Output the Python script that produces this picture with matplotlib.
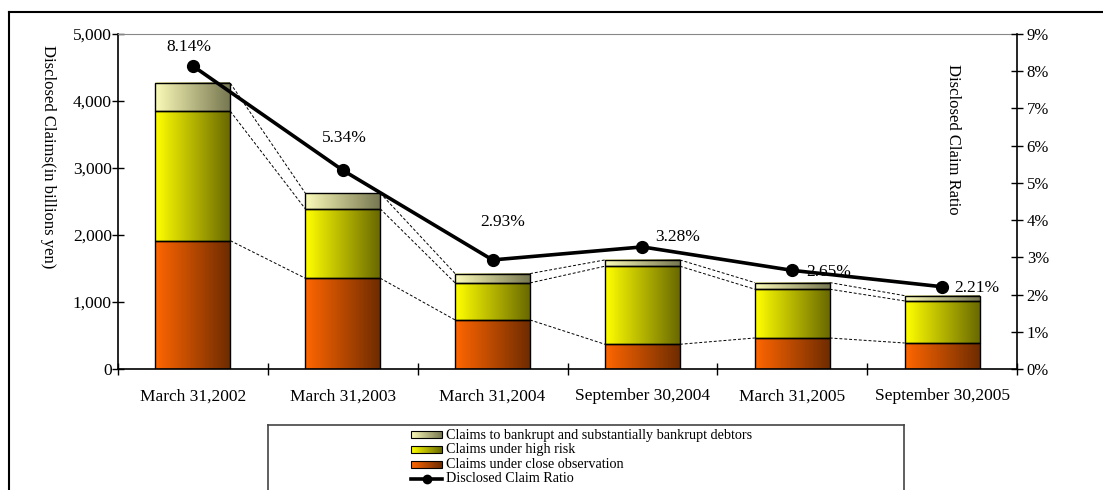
import numpy as np
import matplotlib
matplotlib.use('Agg')
import matplotlib.pyplot as plt
from matplotlib.lines import Line2D
from matplotlib.ticker import FuncFormatter, FixedLocator

plt.rcParams['font.family'] = ['Liberation Serif', 'DejaVu Serif']

# Disclosed claims (billions of yen) and ratio
periods = ['March 31,2002', 'March 31,2003', 'March 31,2004',
           'September 30,2004', 'March 31,2005', 'September 30,2005']
close_observation = [1915, 1355, 732, 369, 463, 388]
high_risk = [1931, 1036, 553, 1165, 728, 628]
bankrupt = [418, 234, 139, 94, 99, 79]
claim_ratio = [8.14, 5.34, 2.93, 3.28, 2.65, 2.21]

series_names = ['Claims to bankrupt and substantially bankrupt debtors',
                'Claims under high risk',
                'Claims under close observation']

# gradient end colours (left -> right) for each stack segment
grad_close = ('#ff6600', '#702c00')
grad_high = ('#ffff00', '#6a6a00')
grad_bank = ('#fafab8', '#787852')

# label offsets in points for ratio labels
label_offsets = [(-3, 14), (1, 23), (7, 27), (25, 7), (26, -1), (25, -1)]

W, H = 1103, 490
fig = plt.figure(figsize=(W / 100, H / 100), dpi=100)
ax = fig.add_axes([118 / W, 1 - 369 / H, (1017 - 118) / W, (369 - 34) / H])


def gradient(c0, c1, n=64):
    a = np.array(matplotlib.colors.to_rgb(c0))
    b = np.array(matplotlib.colors.to_rgb(c1))
    t = np.linspace(0, 1, n)[:, None]
    return (a + (b - a) * t)[None, :, :]


x = np.arange(len(periods))
width = 0.5
lvl1 = np.array(close_observation)
lvl2 = lvl1 + np.array(high_risk)
lvl3 = lvl2 + np.array(bankrupt)

stack = [(np.zeros(len(x)), lvl1, grad_close),
         (lvl1, lvl2, grad_high),
         (lvl2, lvl3, grad_bank)]
for bottom, top, grad in stack:
    img = gradient(*grad)
    for i in range(len(x)):
        ax.imshow(img, extent=[x[i] - width / 2, x[i] + width / 2, bottom[i], top[i]],
                  aspect='auto', interpolation='bilinear', zorder=2)
    ax.bar(x, top - bottom, width, bottom=bottom, facecolor='none',
           edgecolor='black', linewidth=1.0, zorder=3)

# series lines between adjacent bars
for lvl in (lvl1, lvl2, lvl3):
    for i in range(len(x) - 1):
        ax.plot([x[i] + width / 2, x[i + 1] - width / 2], [lvl[i], lvl[i + 1]],
                color='black', linestyle=(0, (3, 2)), linewidth=0.7, zorder=3)

ax.set_xlim(-0.5, len(x) - 0.5)
ax.set_ylim(0, 5000)
ax.yaxis.set_major_locator(FixedLocator(np.arange(0, 5001, 1000)))
ax.yaxis.set_major_formatter(FuncFormatter(lambda v, p: f'{v:,.0f}'))
ax.xaxis.set_major_locator(FixedLocator(np.arange(-0.5, len(x), 1.0)))
ax.xaxis.set_major_formatter(FuncFormatter(lambda v, p: ''))
ax.xaxis.set_minor_locator(FixedLocator(x))
ax.set_xticklabels(periods, minor=True)
ax.tick_params(axis='x', which='major', direction='inout', length=8, width=1)
ax.tick_params(axis='x', which='minor', length=0, pad=14, labelsize=12.5)
ax.tick_params(axis='y', direction='inout', length=8, width=1, labelsize=12.5, pad=0.5)

for s in ('left', 'bottom'):
    ax.spines[s].set_linewidth(1.2)
ax.spines['top'].set_color('#888888')
ax.spines['top'].set_linewidth(0.8)
ax.spines['right'].set_visible(False)

# ratio on secondary axis
ax2 = ax.twinx()
ax2.set_ylim(0, 9)
ax2.yaxis.set_major_locator(FixedLocator(np.arange(0, 10, 1)))
ax2.yaxis.set_major_formatter(FuncFormatter(lambda v, p: f'{v:.0f}%'))
ax2.tick_params(axis='y', direction='inout', length=8, width=1, labelsize=12, pad=3)
ax2.spines['right'].set_linewidth(1.2)
for s in ('left', 'top', 'bottom'):
    ax2.spines[s].set_visible(False)
ax2.plot(x, claim_ratio, color='black', linewidth=2.6, marker='o', markersize=8.5, zorder=5)
for xi, r, off in zip(x, claim_ratio, label_offsets):
    ax2.annotate(f'{r:.2f}%', (xi, r), xytext=off, textcoords='offset points',
                 ha='center', va='center', fontsize=12.5)

ax.text((48 - 118) / 899, (369 - 157) / 335, 'Disclosed Claims(in billions yen)',
        transform=ax.transAxes, rotation=-90, ha='center', va='center', fontsize=12)
ax.text((953 - 118) / 899, (369 - 139) / 335, 'Disclosed Claim Ratio',
        transform=ax.transAxes, rotation=-90, ha='center', va='center', fontsize=12)

# outer frame (open at right and bottom)
fig.add_artist(Line2D([9 / W, 9 / W], [0, 1 - 12 / H], color='black', linewidth=1.5,
                      transform=fig.transFigure))
fig.add_artist(Line2D([9 / W, 1], [1 - 12 / H, 1 - 12 / H], color='black', linewidth=1.5,
                      transform=fig.transFigure))

# legend box
lax = fig.add_axes([268 / W, 0, (904 - 268) / W, (H - 425) / H])
lax.set_xlim(268, 904)
lax.set_ylim(H, 425)
lax.set_xticks([])
lax.set_yticks([])
lax.spines['bottom'].set_visible(False)
for s in ('top', 'left', 'right'):
    lax.spines[s].set_color('#444444')
    lax.spines[s].set_linewidth(1.2)

rows = [435, 450, 464.5, 479]
for (name, grad), yy in zip(zip(series_names, [grad_bank, grad_high, grad_close]), rows):
    lax.imshow(gradient(*grad), extent=[411, 442, yy + 3.5, yy - 3.5], aspect='auto',
               interpolation='bilinear')
    lax.add_patch(plt.Rectangle((411, yy - 3.5), 31, 7, facecolor='none',
                                edgecolor='black', linewidth=0.8))
    lax.text(446, yy, name, va='center', ha='left', fontsize=10.2)
lax.plot([411, 442], [rows[3], rows[3]], color='black', linewidth=2.6)
lax.plot([426.5], [rows[3]], marker='o', color='black', markersize=6)
lax.text(446, rows[3], 'Disclosed Claim Ratio', va='center', ha='left', fontsize=10.2)
lax.set_xlim(268, 904)
lax.set_ylim(H, 425)

fig.savefig('out.png', dpi=100)
